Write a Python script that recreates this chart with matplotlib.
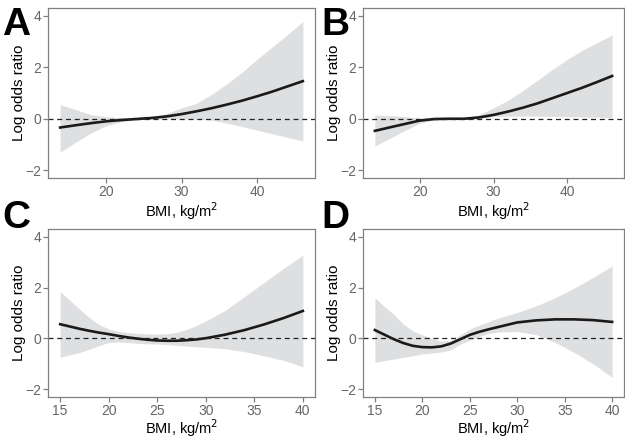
import numpy as np
import matplotlib
matplotlib.use("Agg")
import matplotlib.pyplot as plt

plt.rcParams['font.family'] = ['Liberation Sans', 'DejaVu Sans']

# Panel A
bmi_a = [13.9, 16, 18, 20, 22, 24, 26, 28, 30, 32, 34, 36, 38, 40, 42, 44, 46.1]
fit_a = [-0.34, -0.25, -0.17, -0.10, -0.05, -0.01, 0.03, 0.09, 0.18, 0.29, 0.41, 0.55, 0.70, 0.87, 1.05, 1.25, 1.46]
hi_a = [0.55, 0.35, 0.16, 0.08, 0.04, 0.02, 0.05, 0.20, 0.42, 0.60, 0.95, 1.35, 1.80, 2.30, 2.78, 3.25, 3.78]
lo_a = [-1.30, -0.90, -0.55, -0.27, -0.12, -0.04, -0.01, 0.00, -0.01, -0.02, -0.05, -0.17, -0.30, -0.44, -0.58, -0.72, -0.86]

# Panel B
bmi_b = [13.9, 16, 18, 20, 22, 24, 26, 28, 30, 32, 34, 36, 38, 40, 42, 44, 46.1]
fit_b = [-0.47, -0.33, -0.20, -0.07, -0.01, 0.00, 0.00, 0.05, 0.15, 0.28, 0.43, 0.60, 0.80, 1.00, 1.20, 1.42, 1.66]
hi_b = [0.15, 0.12, 0.08, 0.03, 0.02, 0.02, 0.03, 0.15, 0.42, 0.72, 1.10, 1.50, 1.92, 2.30, 2.65, 2.95, 3.25]
lo_b = [-1.06, -0.75, -0.45, -0.17, -0.04, -0.02, -0.02, 0.00, 0.09, 0.10, 0.10, 0.10, 0.09, 0.08, 0.07, 0.06, 0.05]

# Panel C
bmi_c = [15, 16, 17, 18, 19, 20, 21, 22, 23, 24, 25, 26, 27, 28, 29, 30, 32, 34, 36, 38, 40]
fit_c = [0.56, 0.47, 0.38, 0.30, 0.23, 0.17, 0.10, 0.04, -0.01, -0.05, -0.08, -0.09, -0.09, -0.07, -0.04, 0.01, 0.15, 0.33, 0.55, 0.80, 1.08]
hi_c = [1.84, 1.50, 1.15, 0.82, 0.55, 0.37, 0.28, 0.23, 0.20, 0.18, 0.17, 0.19, 0.24, 0.35, 0.50, 0.69, 1.10, 1.65, 2.20, 2.75, 3.27]
lo_c = [-0.74, -0.64, -0.55, -0.42, -0.28, -0.16, -0.14, -0.16, -0.19, -0.21, -0.22, -0.24, -0.27, -0.30, -0.33, -0.35, -0.40, -0.52, -0.68, -0.86, -1.11]

# Panel D
bmi_d = [15, 16, 17, 18, 19, 20, 21, 22, 23, 24, 25, 26, 27, 28, 30, 32, 34, 36, 38, 40]
fit_d = [0.33, 0.15, -0.03, -0.18, -0.29, -0.34, -0.35, -0.31, -0.20, -0.03, 0.14, 0.26, 0.36, 0.45, 0.63, 0.71, 0.75, 0.75, 0.72, 0.65]
hi_d = [1.61, 1.25, 0.95, 0.56, 0.30, 0.14, 0.00, -0.10, -0.08, 0.14, 0.37, 0.52, 0.66, 0.80, 1.02, 1.28, 1.60, 1.98, 2.40, 2.85]
lo_d = [-0.94, -0.87, -0.81, -0.74, -0.68, -0.61, -0.57, -0.53, -0.45, -0.22, -0.07, 0.08, 0.20, 0.25, 0.27, 0.15, -0.15, -0.55, -1.00, -1.53]

panels = [
    ("A", bmi_a, fit_a, hi_a, lo_a, [20, 30, 40]),
    ("B", bmi_b, fit_b, hi_b, lo_b, [20, 30, 40]),
    ("C", bmi_c, fit_c, hi_c, lo_c, [15, 20, 25, 30, 35, 40]),
    ("D", bmi_d, fit_d, hi_d, lo_d, [15, 20, 25, 30, 35, 40]),
]

W, H = 625, 438
fig = plt.figure(figsize=(W / 100, H / 100), dpi=100)

# axes boxes in pixels: left, top, right, bottom
boxes = [(48, 8, 315, 178), (363, 8, 624, 178), (48, 229, 315, 397), (363, 229, 624, 397)]
# panel letter positions (left x, baseline y) in pixels
letters = [(2, 35), (321, 35), (2, 228), (321, 228)]
# axis label centres in pixels: y-label x, x-label y
ylab_x = [19, 334, 19, 334]
xlab_y = [211, 211, 428, 428]

grey = "#808080"
for i, (name, x, y, hi, lo, xt) in enumerate(panels):
    l, t, r, b = boxes[i]
    ax = fig.add_axes([l / W, 1 - b / H, (r - l) / W, (b - t) / H])
    ax.fill_between(x, lo, hi, color="#dedfe1", linewidth=0)
    ax.plot(x, y, color="#1a1a1a", lw=1.9)
    ax.axhline(0, color="#222222", lw=0.9, ls=(0, (4, 3)))
    span = x[-1] - x[0]
    ax.set_xlim(x[0] - 0.05 * span, x[-1] + 0.05 * span)
    ax.set_ylim(-2.3, 4.3)
    ax.set_yticks([-2, 0, 2, 4])
    ax.set_yticklabels(["\u22122", "0", "2", "4"])
    ax.set_xticks(xt)
    for s in ax.spines.values():
        s.set_color(grey)
        s.set_linewidth(0.9)
    ax.tick_params(colors=grey, labelcolor="#666666", labelsize=10, length=3.5, width=0.9, pad=1.5)
    ax.set_xlabel("BMI, kg/m$^2$", fontsize=10.5)
    ax.set_ylabel("Log odds ratio", fontsize=11)
    ax.xaxis.set_label_coords(0.5, (b - xlab_y[i]) / (b - t), transform=ax.transAxes)
    ax.yaxis.set_label_coords((ylab_x[i] - l) / (r - l), 0.5, transform=ax.transAxes)
    ax.xaxis.label.set_va("center")
    ax.yaxis.label.set_va("center")
    fig.text(letters[i][0] / W, 1 - letters[i][1] / H, name, fontsize=28, fontweight="bold", ha="left", va="baseline")

fig.savefig("out.png", dpi=100)
